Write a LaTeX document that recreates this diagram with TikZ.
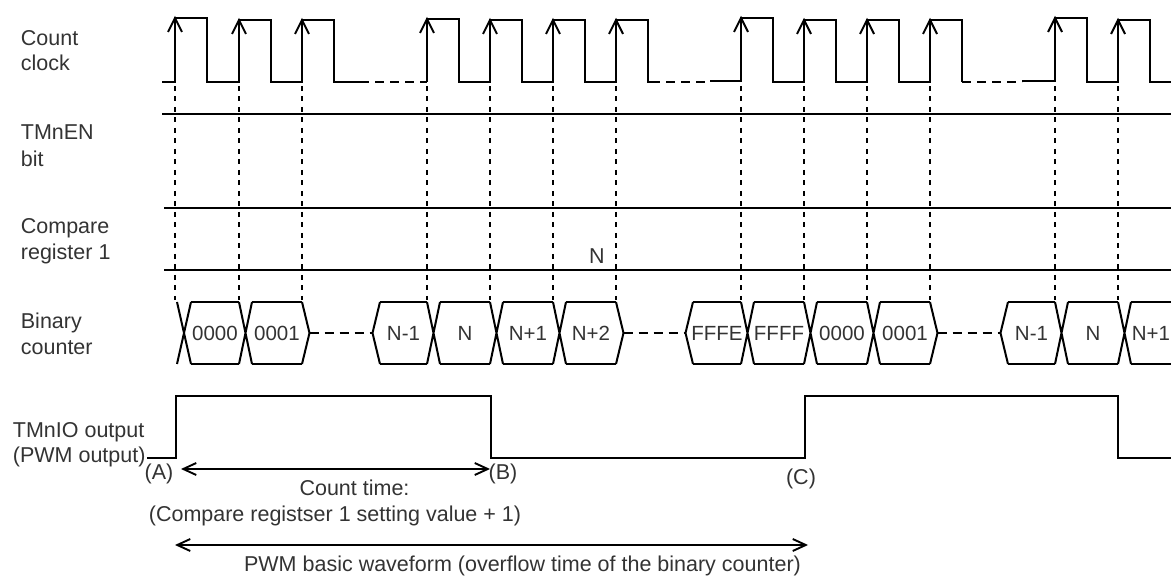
\documentclass[tikz,border=0pt]{standalone}
\usepackage{fontspec}
\setmainfont{Liberation Sans}
\usetikzlibrary{arrows.meta}
\begin{document}
\begin{tikzpicture}[x=1pt,y=-1pt,
  wave/.style={line width=2pt, line join=miter, line cap=butt},
  guide/.style={line width=1.9pt, dash pattern=on 5pt off 5.5pt},
  gap/.style={line width=2pt, dash pattern=on 9pt off 6pt},
  lbl/.style={font=\fontsize{21.5}{26}\selectfont, text=black!80, anchor=base west, inner sep=0pt},
  val/.style={font=\fontsize{20.5}{24}\selectfont, text=black!80, inner sep=0pt},
  note/.style={font=\fontsize{21.5}{26}\selectfont, text=black!80, inner sep=0pt},
  span/.style={line width=1.9pt, {Straight Barb[length=13pt,width=12pt]}-{Straight Barb[length=13pt,width=12pt]}},
  tip/.style={line width=2pt}]
\useasboundingbox (0,0) rectangle (1171,577);
\clip (0,0) rectangle (1171,577);

% ---------- left labels ----------
\node[lbl] (l1) at (20.7,45.4) {Count};
\node[lbl] (l2) at (20.7,70.7) {clock};
\node[lbl] (l3) at (20.7,140) {TMnEN};
\node[lbl] (l4) at (20.7,166.5) {bit};
\node[lbl] (l5) at (20.7,233.5) {Compare};
\node[lbl] (l6) at (20.7,259.5) {register 1};
\node[lbl] (l7) at (20.7,328.5) {Binary};
\node[lbl] (l8) at (20.7,354.5) {counter};
\node[lbl] (l9) at (12.7,437.5) {TMnIO output};
\node[lbl] (l10) at (12.7,463) {(PWM output)};

% ---------- count clock ----------
\draw[wave] (162,82) -- (175,82) -- (175,18) -- (207,18) -- (207,82) -- (239,82) -- (239,20) -- (271,20) -- (271,82)
  -- (302,82) -- (302,20) -- (334,20) -- (334,82) -- (360,82);
\draw[gap] (360,82) -- (427,82);
\draw[wave] (427,82) -- (427,19) -- (459,19) -- (459,82) -- (490,82) -- (490,20) -- (522,20) -- (522,82)
  -- (553,82) -- (553,20) -- (585,20) -- (585,82) -- (616,82) -- (616,20) -- (648,20) -- (648,82) -- (651,82);
\draw[gap] (651,82) -- (710,82);
\draw[wave] (710,81) -- (741,81) -- (741,18) -- (773,18) -- (773,82) -- (804,82) -- (804,20) -- (836,20) -- (836,82)
  -- (867,82) -- (867,20) -- (899,20) -- (899,82) -- (930,82) -- (930,20) -- (962,20) -- (962,82);
\draw[gap] (962,82) -- (1022,82);
\draw[wave] (1022,81) -- (1055,81) -- (1055,18) -- (1087,18) -- (1087,82) -- (1118,82) -- (1118,20) -- (1150,20)
  -- (1150,82) -- (1175,82);
\foreach \e/\t in {175/18,239/20,302/20,427/19,490/20,553/20,616/20,741/18,804/20,867/20,930/20,1055/18,1118/20}{
  \draw[tip] (\e-7,\t+14) -- (\e,\t) -- (\e+7,\t+14);
  \draw[guide] (\e,86) -- (\e,300);
}

% ---------- TMnEN bit ----------
\draw[wave] (162,114.5) -- (1175,114.5);

% ---------- compare register 1 ----------
\draw[wave] (164,208.5) -- (1175,208.5);
\draw[wave] (164,270.5) -- (1175,270.5);
\node[note] (cmpN) at (597,256) {N};

% ---------- binary counter ----------
\draw[wave] (177,302) -- (191,364) (177,364) -- (191,302);
\foreach \e in {239,427,490,553,741,804,867,1055,1118}{
  \draw[wave] (\e,302) -- (\e+13,364) (\e,364) -- (\e+13,302);
}
\foreach \s/\t in {191/239,252/302,380/427,440/490,503/553,566/616,693/741,754/804,817/867,880/930,1008/1055,1068/1118,1131/1175}{
  \draw[wave] (\s,302) -- (\t,302) (\s,364) -- (\t,364);
}
\foreach \a in {302,616,930}{
  \draw[wave] (\a,302) -- (\a+7.5,333) -- (\a,364);
}
\foreach \b in {380,693,1008}{
  \draw[wave] (\b,302) -- (\b-7.5,333) -- (\b,364);
}
\draw[gap] (309.5,333) -- (372.5,333);
\draw[gap] (623.5,333) -- (685.5,333);
\draw[gap] (937.5,333) -- (1000.5,333);
\node[val] (v1) at (215,333) {0000};
\node[val] (v2) at (277,333) {0001};
\node[val] (v3) at (403.5,333) {N-1};
\node[val] (v4) at (465,333) {N};
\node[val] (v5) at (528,333) {N+1};
\node[val] (v6) at (591,333) {N+2};
\node[val] (v7) at (717,333) {FFFE};
\node[val] (v8) at (779,333) {FFFF};
\node[val] (v9) at (842,333) {0000};
\node[val] (v10) at (905,333) {0001};
\node[val] (v11) at (1031.5,333) {N-1};
\node[val] (v12) at (1093,333) {N};
\node[val] (v13) at (1151,333) {N+1};

% ---------- TMnIO output ----------
\draw[wave] (147,458) -- (176,458) -- (176,396) -- (491,396) -- (491,458) -- (805,458) -- (805,396)
  -- (1118,396) -- (1118,458) -- (1175,458);
\node[note] (pA) at (159,474) {(A)};
\node[note] (pB) at (503,474) {(B)};
\node[note] (pC) at (801,479) {(C)};

\coordinate (ctL) at (181,469);
\coordinate (ctR) at (490,469);
\draw[span] (ctL) -- (ctR);
\node[note, anchor=base] (ct1) at (354.5,495.5) {Count time:};
\node[note, anchor=base] (ct2) at (335,521.5) {(Compare registser 1 setting value + 1)};

\coordinate (pwL) at (175,545);
\coordinate (pwR) at (808,545);
\draw[span] (pwL) -- (pwR);
\node[note, anchor=base] (pw) at (522.5,571) {PWM basic waveform (overflow time of the binary counter)};
\end{tikzpicture}
\end{document}
